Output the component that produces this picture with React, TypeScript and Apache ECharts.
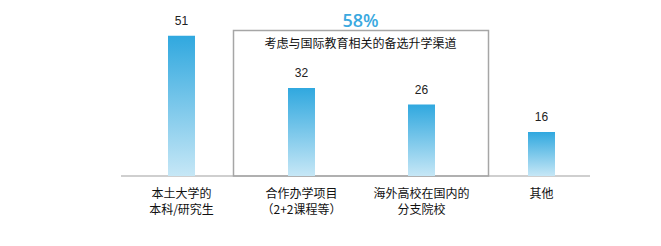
import React, { useEffect, useRef } from "react";
import * as echarts from "echarts";

const categories = ["本土大学的\n本科/研究生", "合作办学项目\n（2+2课程等）", "海外高校在国内的\n分支院校", "其他"];
const values = [51, 32, 26, 16];
const boxTitle = "58%";
const boxSubtitle = "考虑与国际教育相关的备选升学渠道";

export default function App() {
  const ref = useRef<HTMLDivElement>(null);
  useEffect(() => {
    const chart = echarts.init(ref.current!, undefined, { renderer: "svg" });
    chart.setOption({
      animation: false,
      grid: { left: 121.5, right: 59.5, top: 11, bottom: 70 },
      xAxis: {
        type: "category",
        data: categories,
        axisLine: { show: false },
        axisTick: { show: false },
        axisLabel: {
          interval: 0,
          margin: 8,
          color: "#111",
          fontSize: 12,
          lineHeight: 16,
          fontFamily: "Noto Sans CJK SC",
        },
      },
      yAxis: {
        type: "value",
        min: 0,
        max: 60,
        show: false,
        splitLine: { show: false },
      },
      series: [
        {
          type: "bar",
          data: values,
          barWidth: 27,
          itemStyle: {
            color: new echarts.graphic.LinearGradient(0, 0, 0, 1, [
              { offset: 0, color: "#30a8df" },
              { offset: 1, color: "#c6e7f6" },
            ]),
          },
          label: {
            show: true,
            position: "top",
            distance: 9,
            color: "#222",
            fontSize: 12,
            fontFamily: "Liberation Sans, Arial",
          },
        },
      ],
      graphic: [
        {
          type: "line",
          shape: { x1: 121, y1: 176, x2: 590, y2: 176 },
          style: { stroke: "#bfbfbf", lineWidth: 1.5 },
        },
        {
          type: "rect",
          shape: { x: 233.5, y: 30.5, width: 255, height: 145.5 },
          style: { fill: "none", stroke: "#a6a6a6", lineWidth: 1.5 },
        },
        {
          type: "text",
          x: 360.5,
          y: 20,
          style: {
            text: boxTitle,
            fill: "#3ba9e0",
            fontSize: 18,
            fontWeight: 600,
            fontFamily: "Open Sans, Noto Sans",
            align: "center",
            verticalAlign: "middle",
          },
        },
        {
          type: "text",
          x: 360.5,
          y: 42,
          style: {
            text: boxSubtitle,
            fill: "#111",
            fontSize: 12,
            fontFamily: "Noto Sans CJK SC",
            align: "center",
            verticalAlign: "middle",
          },
        },
      ],
    });
    return () => chart.dispose();
  }, []);
  return <div ref={ref} style={{ width: 661, height: 246, margin: -8 }} />;
}
